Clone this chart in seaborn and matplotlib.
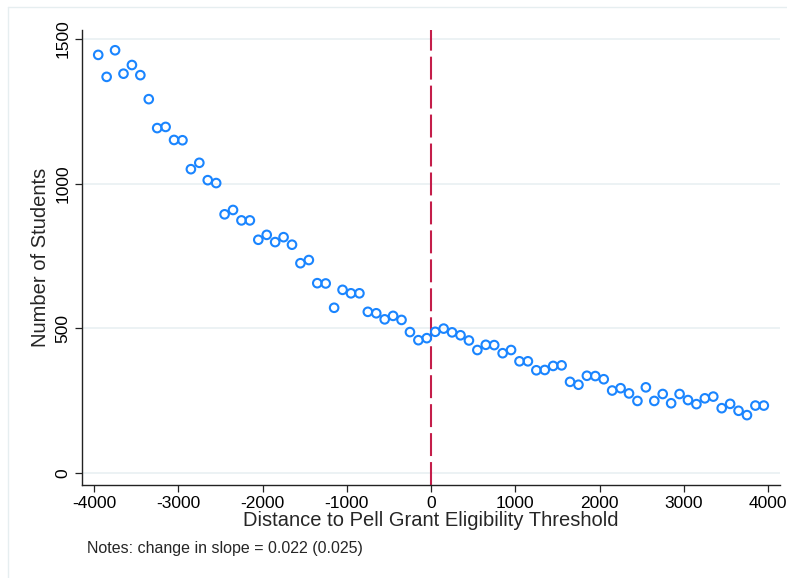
import numpy as np
import pandas as pd
import matplotlib
matplotlib.use("Agg")
import matplotlib.pyplot as plt
import seaborn as sns
from matplotlib.lines import Line2D

distance = [-3950, -3850, -3750, -3650, -3550, -3450, -3350, -3250, -3150, -3050,
            -2950, -2850, -2750, -2650, -2550, -2450, -2350, -2250, -2150, -2050,
            -1950, -1850, -1750, -1650, -1550, -1450, -1350, -1250, -1150, -1050,
            -950, -850, -750, -650, -550, -450, -350, -250, -150, -50,
            50, 150, 250, 350, 450, 550, 650, 750, 850, 950,
            1050, 1150, 1250, 1350, 1450, 1550, 1650, 1750, 1850, 1950,
            2050, 2150, 2250, 2350, 2450, 2550, 2650, 2750, 2850, 2950,
            3050, 3150, 3250, 3350, 3450, 3550, 3650, 3750, 3850, 3950]
students = [1445, 1369, 1461, 1380, 1410, 1375, 1292, 1192, 1196, 1151,
            1150, 1050, 1072, 1012, 1002, 894, 909, 873, 873, 806,
            823, 798, 815, 789, 725, 736, 656, 655, 571, 633,
            621, 621, 557, 552, 531, 543, 529, 487, 459, 466,
            488, 499, 486, 476, 458, 425, 443, 442, 414, 425,
            386, 386, 355, 356, 370, 372, 315, 305, 336, 335,
            324, 285, 293, 275, 249, 296, 249, 273, 241, 273,
            252, 238, 258, 264, 224, 239, 215, 200, 233, 233]
x_ticks = [-4000, -3000, -2000, -1000, 0, 1000, 2000, 3000, 4000]
y_ticks = [0, 500, 1000, 1500]
threshold = 0
x_label = "Distance to Pell Grant Eligibility Threshold"
y_label = "Number of Students"
note = "Notes: change in slope = 0.022 (0.025)"

df = pd.DataFrame({"distance": distance, "students": students})

sns.set_style("white")
plt.rcParams["font.family"] = ["Liberation Sans", "DejaVu Sans"]

fig = plt.figure(figsize=(7.87, 5.78), dpi=100)
ax = fig.add_axes([81.7/787, 1 - 485/578, (780-81.7)/787, (485-30)/578])

for yt in y_ticks:
    ax.axhline(yt, color="#eaf1f3", lw=1.3, zorder=0)

ax.axvline(threshold, color="#c41e4a", lw=1.5, dashes=(11, 2.9), zorder=1)

sns.scatterplot(data=df, x="distance", y="students", ax=ax, marker="o", s=38,
                facecolor="none", edgecolor="#1a85ff", linewidth=1.5, zorder=3)

ax.set_xlim(-4146, 4142)
ax.set_ylim(-41.5, 1531)
ax.set_xticks(x_ticks)
ax.set_xticklabels([str(v) for v in x_ticks])
ax.set_yticks(y_ticks)
ax.set_yticklabels([str(v) for v in y_ticks], rotation=90, va="center")

for s in ["top", "right"]:
    ax.spines[s].set_visible(False)
for s in ["left", "bottom"]:
    ax.spines[s].set_color("#222222")
    ax.spines[s].set_linewidth(1.0)

ax.tick_params(axis="both", which="major", direction="out", length=5, width=0.9,
               color="#222222", labelsize=12.5, labelcolor="black", left=True, bottom=True, pad=3)
ax.set_xlabel(x_label, fontsize=14.5, labelpad=0)
ax.set_ylabel(y_label, fontsize=14.5, labelpad=4)

fig.text(87/787, 1 - 549/578, note, fontsize=11.5, va="center", ha="left")

fig.add_artist(Line2D([8/787, 8/787], [0, 1 - 7/578], transform=fig.transFigure, color="#e6eef0", lw=1))
fig.add_artist(Line2D([8/787, 1], [1 - 7/578, 1 - 7/578], transform=fig.transFigure, color="#e6eef0", lw=1))

fig.savefig("out.png", dpi=100)
